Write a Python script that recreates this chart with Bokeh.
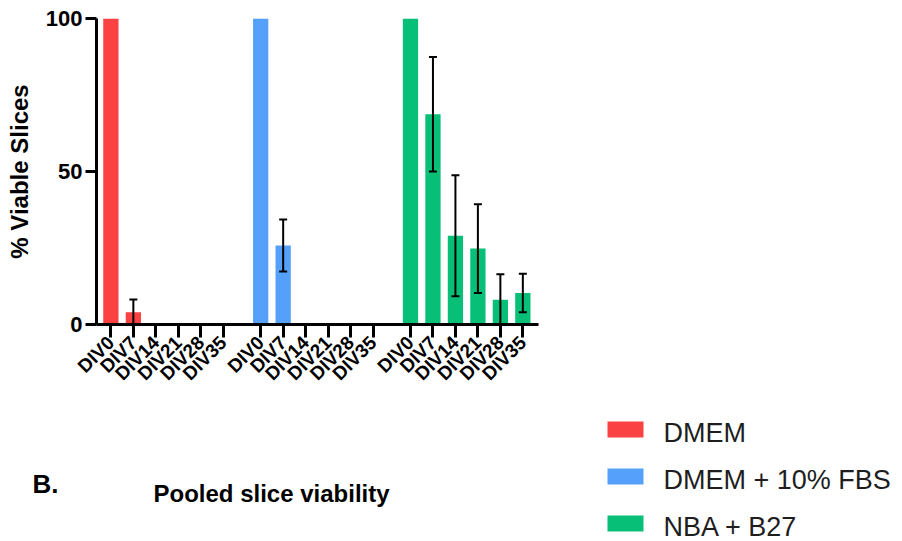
import math
from bokeh.plotting import figure
from bokeh.models import ColumnDataSource, Range1d, FixedTicker, Whisker, TeeHead
from bokeh.embed import file_html
from bokeh.resources import INLINE
from bokeh.core.properties import value

# ---------------- data ----------------
days = ["DIV0", "DIV7", "DIV14", "DIV21", "DIV28", "DIV35"]
media = ["DMEM", "DMEM + 10% FBS", "NBA + B27"]
colors = ["#FA4242", "#55A0FA", "#08BF78"]
dmem_mean = [100, 4.0, 0, 0, 0, 0]
dmem_sd = [0, 4.2, 0, 0, 0, 0]
fbs_mean = [100, 25.8, 0, 0, 0, 0]
fbs_sd = [0, 8.5, 0, 0, 0, 0]
nba_mean = [100, 68.7, 29.0, 24.8, 8.1, 10.3]
nba_sd = [0, 18.7, 19.8, 14.5, 8.3, 6.3]
y_ticks = [0, 50, 100]
y_label = "% Viable Slices"
panel_letter = "B."
title_text = "Pooled slice viability"

means = [dmem_mean, fbs_mean, nba_mean]
sds = [dmem_sd, fbs_sd, nba_sd]

FONT = "Liberation Sans"
group_gap = 2.0 / 3.0
n = len(days)

xs, tops, cols, labels = [], [], [], []
wx, wup, wlo = [], [], []
for g in range(len(media)):
    for i in range(n):
        x = round(g * (n + group_gap) + i, 3)
        xs.append(x)
        tops.append(means[g][i])
        cols.append(colors[g])
        labels.append(days[i])
        if sds[g][i] > 0:
            wx.append(x)
            wup.append(means[g][i] + sds[g][i])
            wlo.append(means[g][i] - sds[g][i])

src = ColumnDataSource(dict(x=xs, top=tops, color=cols))
wsrc = ColumnDataSource(dict(x=wx, upper=wup, lower=wlo))

W = 902
TOP_H = 400
BOT_H = 541 - TOP_H
FL, FT, FW, FH = 96, 18, 442, 306

p = figure(width=W, height=TOP_H, x_range=Range1d(-0.64, 19.03), y_range=Range1d(0, 100),
           output_backend="svg", toolbar_location=None,
           min_border_left=FL, min_border_right=W - FL - FW,
           min_border_top=FT, min_border_bottom=TOP_H - FT - FH)
p.xgrid.visible = False
p.ygrid.visible = False
p.outline_line_color = None
p.background_fill_color = "white"

p.vbar(x="x", top="top", width=0.68, source=src, fill_color="color", line_color=None)

head_u = TeeHead(size=8, line_width=2, line_color="black")
head_l = TeeHead(size=8, line_width=2, line_color="black")
wh = Whisker(base="x", upper="upper", lower="lower", source=wsrc,
             line_width=2, line_color="black", upper_head=head_u, lower_head=head_l)
wh.level = "overlay"
p.add_layout(wh)

xa = p.xaxis[0]
xa.ticker = FixedTicker(ticks=xs)
xa.major_label_overrides = {x: lab for x, lab in zip(xs, labels)}
xa.major_label_orientation = math.pi / 4
xa.major_label_text_font = FONT
xa.major_label_text_font_style = "bold"
xa.major_label_text_font_size = "19px"
xa.major_label_text_color = "black"
xa.major_label_standoff = 2
xa.major_tick_out = 13
xa.major_tick_in = 0
xa.major_tick_line_width = 3
xa.minor_tick_line_color = None
xa.axis_line_width = 3
xa.axis_line_color = "black"

ya = p.yaxis[0]
ya.ticker = FixedTicker(ticks=y_ticks)
ya.axis_label = y_label
ya.axis_label_text_font = FONT
ya.axis_label_text_font_style = "bold"
ya.axis_label_text_font_size = "24px"
ya.axis_label_text_color = "black"
ya.axis_label_standoff = 10
ya.major_label_text_font = FONT
ya.major_label_text_font_style = "bold"
ya.major_label_text_font_size = "22px"
ya.major_label_text_color = "black"
ya.major_label_standoff = 3
ya.major_tick_out = 11
ya.major_tick_in = 0
ya.major_tick_line_width = 3
ya.minor_tick_line_color = None
ya.axis_line_width = 3
ya.axis_line_color = "black"

# ---------------- bottom strip: panel letter, title, legend ----------------
q = figure(width=W, height=BOT_H, x_range=Range1d(0, W), y_range=Range1d(BOT_H, 0),
           output_backend="svg", toolbar_location=None, min_border=0,
           x_axis_type=None, y_axis_type=None)
q.outline_line_color = None
q.xgrid.visible = False
q.ygrid.visible = False

q.text(x=[32], y=[83], text=[panel_letter], text_font=value(FONT), text_font_style="bold",
       text_font_size="26px", text_color="black", text_baseline="alphabetic", text_align="left")
q.text(x=[153], y=[92.5], text=[title_text], text_font=value(FONT), text_font_style="bold",
       text_font_size="24px", text_color="black", text_baseline="alphabetic", text_align="left")

leg_top = 29
leg_step = 47
ly = [leg_top + k * leg_step for k in range(len(media))]
lsrc = ColumnDataSource(dict(y=ly, ty=[v + 3.3 for v in ly], name=media, color=colors))
q.rect(x=625, y="y", width=36, height=16, source=lsrc, fill_color="color", line_color=None)
q.text(x=663, y="ty", text="name", source=lsrc, text_font=value(FONT),
       text_font_size="27px", text_color="#1e1e1e", text_baseline="alphabetic", text_align="left")

open("out.html", "w").write(file_html([p, q], INLINE))
